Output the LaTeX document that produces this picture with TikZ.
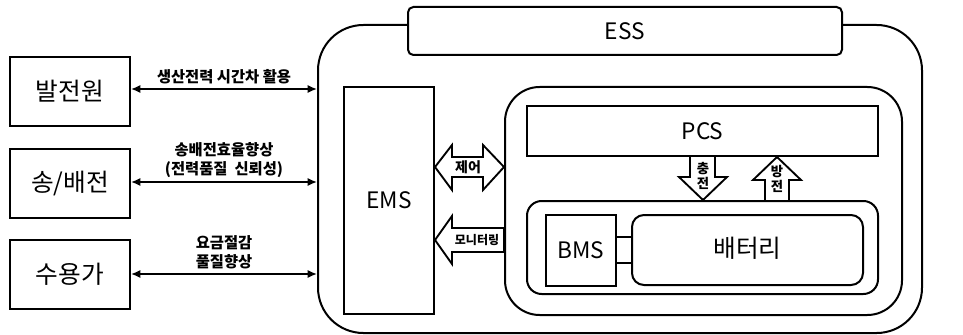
\documentclass[tikz,border=0pt]{standalone}
\usepackage{fontspec}
\setmainfont{Noto Sans CJK KR}
\usetikzlibrary{fit,arrows.meta}
\begin{document}
\begin{tikzpicture}[x=0.75pt,y=-0.75pt, line width=1.5pt,
  bx/.style={draw, inner sep=0pt, fill=white},
  big/.style={font=\fontsize{18.5}{20}\selectfont},
  mid/.style={font=\fontsize{17}{19}\selectfont},
  lab/.style={font=\bfseries\fontsize{11.5}{14}\selectfont, align=center, inner sep=0pt},
  link/.style={{Latex[length=7pt,width=6pt]}-{Latex[length=7pt,width=6pt]}, line width=1.2pt},
  blk/.style={draw, fill=white, line width=1.4pt, line join=miter},
  small/.style={font=\bfseries\fontsize{10.5}{11}\selectfont, inner sep=0pt}]
\useasboundingbox (0,0) rectangle (963,335);
% left boxes
\node[bx, fit={(10,57)(130,126)}, label={[big]center:발전원}] (gen) {};
\node[bx, fit={(10,149)(130,218)}, label={[big]center:송/배전}] (grid) {};
\node[bx, fit={(10,240)(130,309)}, label={[big]center:수용가}] (cons) {};
% ESS container
\node[bx, rounded corners=34pt, fit={(318,25)(922,333)}] (ess) {};
\node[bx, rounded corners=4pt, fit={(408,7)(842,55)}, label={[mid]center:ESS}] (title) {};
\node[bx, fit={(344,87)(434,314)}, label={[mid]center:EMS}] (ems) {};
\node[bx, rounded corners=26pt, fit={(505,87)(902,315)}] (inner) {};
\node[bx, fit={(527,106)(878,156)}, label={[mid]center:PCS}] (pcs) {};
\node[bx, rounded corners=11pt, fit={(527,201)(878,294)}] (pack) {};
\node[bx, fit={(546,215)(616,286)}, label={[mid]center:BMS}] (bms) {};
\node[bx, fit={(616,237)(632,263)}] (conn) {};
\node[bx, rounded corners=9pt, fit={(632,215)(863,285)}, label={[big, yshift=1.5pt]center:배터리}] (bat) {};
% links
\coordinate (g2) at (gen.east |- 0,89);
\coordinate (t2) at (grid.east |- 0,182);
\coordinate (c2) at (cons.east |- 0,274);
\draw[link] (g2) -- (g2 -| ess.west) node[lab, midway, above=3pt] (l1) {생산전력 시간차 활용};
\draw[link] (t2) -- (t2 -| ess.west) node[lab, midway, above=3pt] (l2) {송배전효율향상\\(전력품질\ \ 신뢰성)};
\draw[link] (c2) -- (c2 -| ess.west) node[lab, midway, above=3.5pt] (l3) {요금절감\\풀질향상};
% control double arrow
\draw[blk] (ems.east |- 0,167) -- (452,145) -- (452,157) -- (483,157) -- (483,145) -- (inner.west |- 0,167)
  -- (483,190) -- (483,177) -- (452,177) -- (452,190) -- cycle;
\node[small] (ctl) at (468,167) {제어};
% monitoring arrow
\draw[blk] (ems.east |- 0,240) -- (452,216) -- (452,228) -- (inner.west |- 0,228) -- (inner.west |- 0,252)
  -- (452,252) -- (452,264) -- cycle;
\node[small, font=\bfseries\fontsize{9}{10}\selectfont] (mon) at (477,240) {모니터링};
% charge arrow (down)
\draw[blk] (690,156) -- (715,156) -- (715,177) -- (727,177) -- (703,200) -- (679,177) -- (690,177) -- cycle;
\node[small, align=center, font=\bfseries\fontsize{10}{11}\selectfont] (chg) at (703,176) {충\\전};
% discharge arrow (up)
\draw[blk] (765,201) -- (765,180) -- (753,180) -- (777,157) -- (801,180) -- (789,180) -- (789,201) -- cycle;
\node[small, align=center, font=\bfseries\fontsize{10}{11}\selectfont] (dis) at (777,179) {방\\전};
\end{tikzpicture}
\end{document}
